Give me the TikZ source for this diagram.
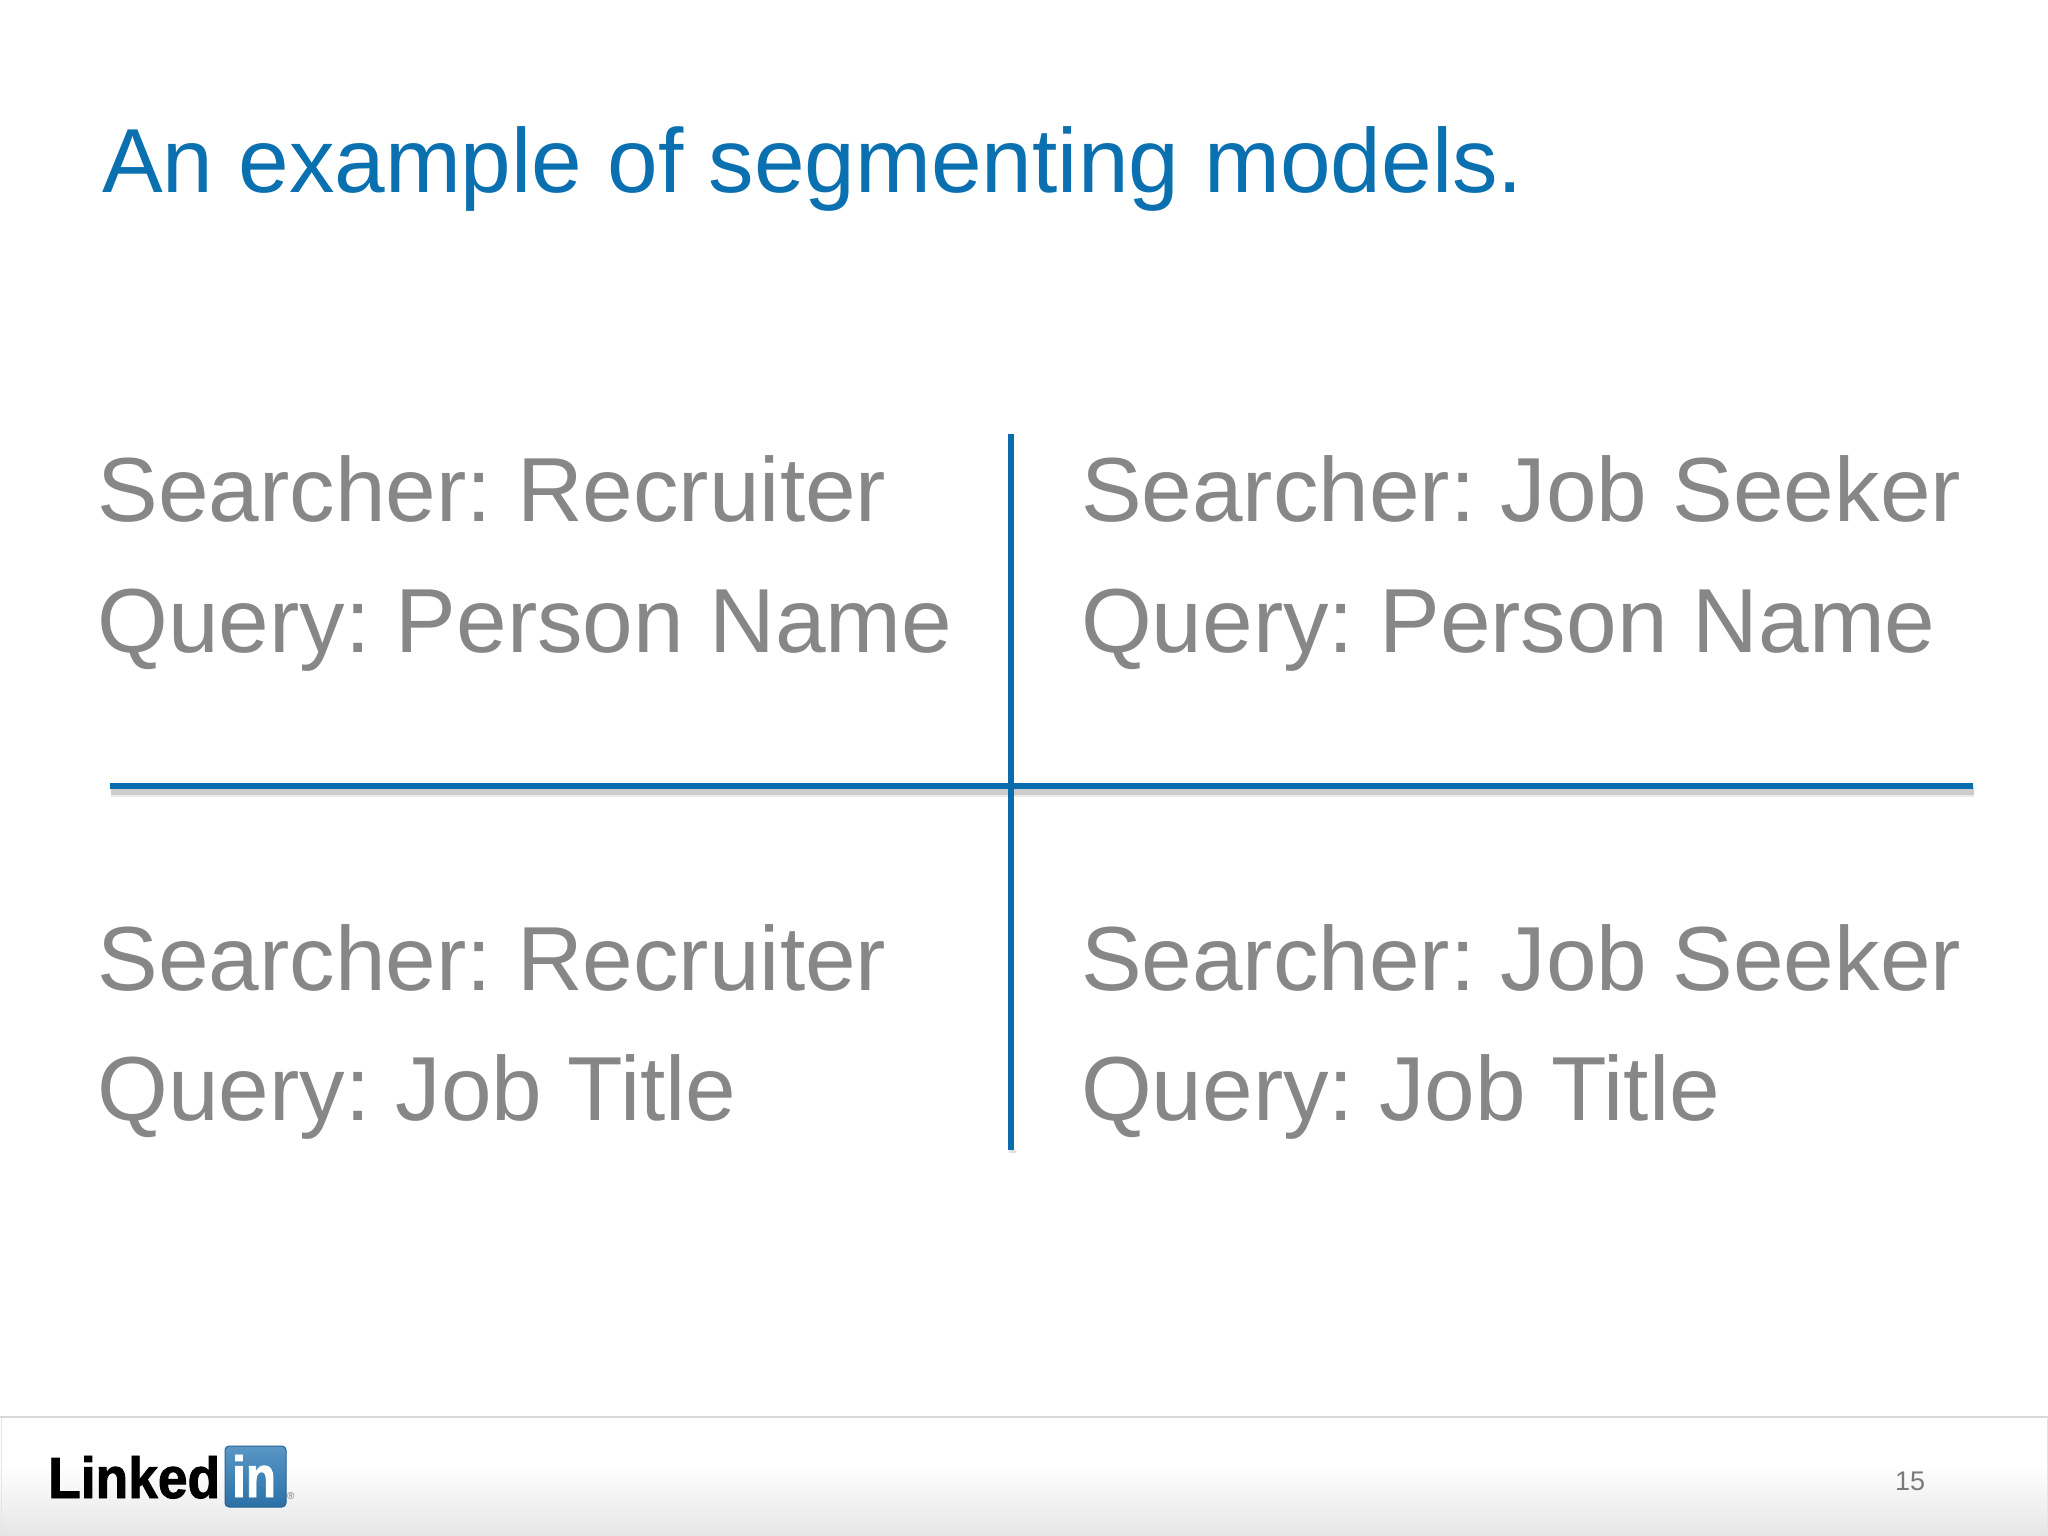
\documentclass[tikz,border=0pt]{standalone}
\usepackage{fontspec}
\setmainfont{Liberation Sans}
\newfontfamily\logofont[BoldFeatures={FakeBold=1.6}]{Liberation Sans}
\frenchspacing
\usetikzlibrary{calc}
\definecolor{titleblue}{HTML}{0A70B0}
\definecolor{rule}{HTML}{0A6CAD}
\definecolor{bodygrey}{HTML}{878787}
\definecolor{logoblue}{HTML}{2F7DB8}
\tikzset{
  x=1pt,y=-1pt,
  body/.style={anchor=base west,inner sep=0pt,outer sep=0pt,text=bodygrey,font=\fontsize{91}{91}\selectfont},
  titletext/.style={anchor=base west,inner sep=0pt,outer sep=0pt,text=titleblue,font=\fontsize{91}{91}\selectfont},
  rulemain/.style={draw=rule,line width=5.5pt},
  ruleshadowa/.style={draw=black!8,line width=12pt},
  ruleshadowb/.style={draw=black!20,line width=7pt},
  logotext/.style={anchor=base west,inner sep=0pt,font=\logofont\fontsize{58}{58}\selectfont\bfseries}
}
\begin{document}
\begin{tikzpicture}
\useasboundingbox (0,0) rectangle (2048,1536);
\fill[white] (0,0) rectangle (2048,1536);
% footer
\fill[white] (0,1417) rectangle (2048,1465);
\shade[top color=white,bottom color=black!10] (0,1465) rectangle (2048,1536);
\draw[black!15,line width=1.5pt] (0,1417) -- (2048,1417);
\draw[black!10,line width=1pt] (1,1417) -- (1,1536);
\draw[black!10,line width=1pt] (2047,1417) -- (2047,1536);
% text
\node[titletext] (title) at (102,193) {An example of segmenting models.};
\node[body] (a1) at (97.5,521) {Searcher: Recruiter};
\node[body] (a2) at (97.5,652) {Query: Person Name};
\node[body] (b1) at (1081,521) {Searcher: Job Seeker};
\node[body] (b2) at (1081,652) {Query: Person Name};
\node[body] (c1) at (97.5,990) {Searcher: Recruiter};
\node[body] (c2) at (97.5,1120) {Query: Job Title};
\node[body] (d1) at (1081,990) {Searcher: Job Seeker};
\node[body] (d2) at (1081,1120) {Query: Job Title};
% rules
\coordinate (vt) at (1011,434);
\coordinate (vb) at (1011,1150);
\coordinate (hl) at (110,786);
\coordinate (hr) at (1973,786);
\draw[ruleshadowa] ($(hl)+(1,5)$) -- ($(hr)+(1,5)$);
\draw[ruleshadowb] ($(hl)+(1,5)$) -- ($(hr)+(1,5)$);
\draw[black!12,line width=7pt] ($(vb)+(1,3)$) -- ($(vb)+(1,0)$);
\draw[rulemain] (vt) -- (vb);
\draw[rulemain] (hl) -- (hr);
% logo
\node[logotext,text=black,xscale=.92] (linked) at (48,1498) {Linked};
\shade[top color=logoblue!80!white,bottom color=logoblue!90!black,draw=logoblue!80!black,line width=1pt,rounded corners=4pt] (225,1446) rectangle (286,1507);
\node[logotext,text=white,xscale=.85] (in) at (232,1497) {in};
\node[anchor=base west,inner sep=0pt,text=black!55,font=\fontsize{10}{10}\selectfont] (reg) at (287,1499) {®};
\node[anchor=base,inner sep=0pt,text=black!52,font=\fontsize{27}{27}\selectfont] (page) at (1910,1490) {15};
\end{tikzpicture}
\end{document}
